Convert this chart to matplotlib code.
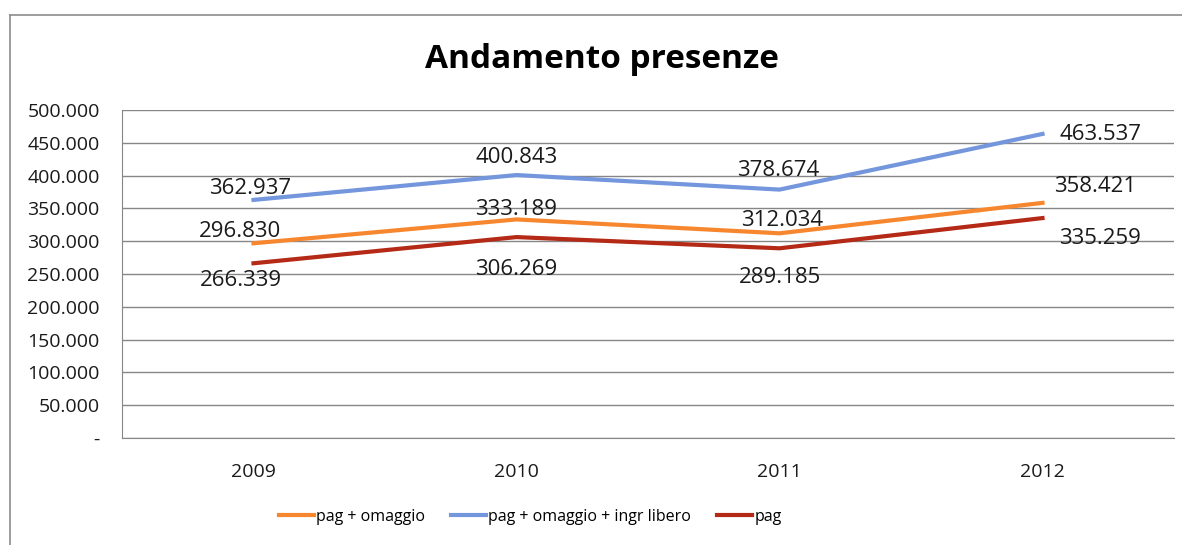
import numpy as np
import matplotlib.pyplot as plt
from matplotlib.lines import Line2D
from matplotlib.ticker import FuncFormatter

years = ['2009', '2010', '2011', '2012']
pag_omaggio = [296830, 333189, 312034, 358421]
pag_omaggio_libero = [362937, 400843, 378674, 463537]
pag = [266339, 306269, 289185, 335259]

plt.rcParams['font.family'] = ['Open Sans', 'DejaVu Sans']

W, H = 1182, 545
fig = plt.figure(figsize=(W / 100, H / 100), dpi=100)
ax = fig.add_axes([122 / W, 107 / H, 1052 / W, 328 / H])

# chart area border (only top and left visible in the crop)
fig.add_artist(Line2D([10 / W, 1], [1 - 15 / H, 1 - 15 / H], transform=fig.transFigure,
                      color='#8c8c8c', linewidth=1.2))
fig.add_artist(Line2D([10 / W, 10 / W], [0, 1 - 15 / H], transform=fig.transFigure,
                      color='#8c8c8c', linewidth=1.2))

x = np.arange(len(years))
c_orange = '#F7872F'
c_blue = '#7396DC'
c_red = '#B42A16'

ax.plot(x, pag_omaggio, color=c_orange, linewidth=3, label='pag + omaggio')
ax.plot(x, pag_omaggio_libero, color=c_blue, linewidth=3, label='pag + omaggio + ingr libero')
ax.plot(x, pag, color=c_red, linewidth=3, label='pag')

ax.set_xlim(-0.5, 3.5)
ax.set_ylim(0, 500000)
ax.set_yticks(np.arange(0, 500001, 50000))
ax.set_xticks(x)
ax.set_xticklabels(years)


def fmt(v, pos):
    if v == 0:
        return '-'
    return f'{int(v):,}'.replace(',', '.')


ax.yaxis.set_major_formatter(FuncFormatter(fmt))
ax.tick_params(axis='y', length=0, pad=16, labelsize=14, colors='#1a1a1a')
ax.tick_params(axis='x', length=0, pad=18, labelsize=14, colors='#1a1a1a')
ax.grid(axis='y', color='#868686', linewidth=1)
ax.set_axisbelow(True)
for s in ['top', 'right']:
    ax.spines[s].set_visible(False)
for s in ['left', 'bottom']:
    ax.spines[s].set_color('#868686')


def lbl(v):
    return f'{v:,}'.replace(',', '.')


# label offsets in pixels (dx, dy up) as placed in the original
offs = {
    'blue': [(-3, 11), (0, 18), (-1, 19), (58, -1)],
    'orange': [(-13, 12), (0, 10), (3, 13), (53, 16)],
    'red': [(-13, -17), (0, -32), (0, -29), (58, -20)],
}
series = [(pag_omaggio_libero, 'blue'), (pag_omaggio, 'orange'), (pag, 'red')]
for vals, key in series:
    for i, v in enumerate(vals):
        ax.annotate(lbl(v), (x[i], v), xytext=offs[key][i], textcoords='offset pixels',
                    ha='center', va='center', fontsize=16, color='#1a1a1a')

fig.text(602 / W, 1 - 68 / H, 'Andamento presenze', ha='center', va='baseline',
         fontsize=24, fontweight='bold', color='#000000')

fig.legend(loc='center', bbox_to_anchor=(530 / W, 1 - 517 / H), ncol=3,
           frameon=False, fontsize=11.5, handlelength=2.2, handletextpad=0.15,
           columnspacing=1.6)

fig.savefig('out.png', dpi=100)
